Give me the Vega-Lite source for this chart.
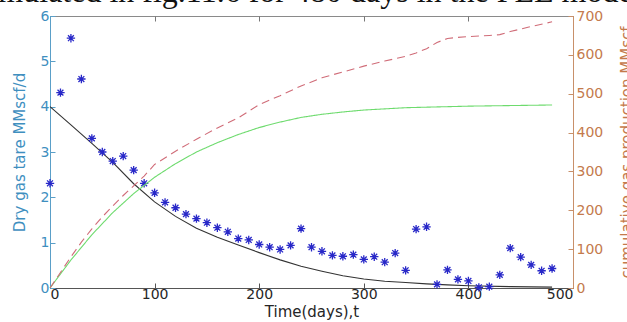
{
  "$schema": "https://vega.github.io/schema/vega-lite/v6.json",
  "width": 523,
  "height": 272,
  "autosize": {"type": "none"},
  "padding": {"left": 50, "top": 16, "right": 54, "bottom": 34},
  "background": "white",
  "title": {
    "text": "simulated in fig.11.6 for 480 days in the PEE model",
    "font": "Liberation Serif",
    "fontSize": 32,
    "fontWeight": "normal",
    "color": "#111111",
    "anchor": "start",
    "frame": "group",
    "offset": 0,
    "baseline": "alphabetic",
    "dx": -73,
    "dy": 25
  },
  "config": {
    "view": {"stroke": "#8a8a8a", "strokeWidth": 1},
    "axis": {
      "labelFont": "DejaVu Sans",
      "titleFont": "DejaVu Sans",
      "labelFontSize": 14,
      "titleFontSize": 14,
      "titleFontWeight": "normal",
      "grid": false,
      "tickSize": -5
    }
  },
  "datasets": {
    "rate": [
      {"t": 0, "y": 2.31}, {"t": 10, "y": 4.31}, {"t": 20, "y": 5.51}, {"t": 30, "y": 4.61},
      {"t": 40, "y": 3.30}, {"t": 50, "y": 3.00}, {"t": 60, "y": 2.80}, {"t": 70, "y": 2.91},
      {"t": 80, "y": 2.60}, {"t": 90, "y": 2.31}, {"t": 100, "y": 2.10}, {"t": 110, "y": 1.89},
      {"t": 120, "y": 1.77}, {"t": 130, "y": 1.63}, {"t": 140, "y": 1.53}, {"t": 150, "y": 1.44},
      {"t": 160, "y": 1.33}, {"t": 170, "y": 1.24}, {"t": 180, "y": 1.09}, {"t": 190, "y": 1.06},
      {"t": 200, "y": 0.96}, {"t": 210, "y": 0.90}, {"t": 220, "y": 0.85}, {"t": 230, "y": 0.94},
      {"t": 240, "y": 1.31}, {"t": 250, "y": 0.90}, {"t": 260, "y": 0.81}, {"t": 270, "y": 0.72},
      {"t": 280, "y": 0.70}, {"t": 290, "y": 0.735}, {"t": 300, "y": 0.63}, {"t": 310, "y": 0.69},
      {"t": 320, "y": 0.57}, {"t": 330, "y": 0.77}, {"t": 340, "y": 0.39}, {"t": 350, "y": 1.30},
      {"t": 360, "y": 1.35}, {"t": 370, "y": 0.08}, {"t": 380, "y": 0.40}, {"t": 390, "y": 0.19},
      {"t": 400, "y": 0.155}, {"t": 410, "y": 0.015}, {"t": 420, "y": 0.03}, {"t": 430, "y": 0.29},
      {"t": 440, "y": 0.88}, {"t": 450, "y": 0.68}, {"t": 460, "y": 0.51}, {"t": 470, "y": 0.38},
      {"t": 480, "y": 0.43}
    ],
    "decline": [
      {"t": 0, "y": 4.0}, {"t": 20, "y": 3.6}, {"t": 40, "y": 3.19}, {"t": 60, "y": 2.77},
      {"t": 80, "y": 2.3}, {"t": 100, "y": 1.9}, {"t": 120, "y": 1.58}, {"t": 140, "y": 1.32},
      {"t": 160, "y": 1.12}, {"t": 180, "y": 0.95}, {"t": 200, "y": 0.78}, {"t": 220, "y": 0.62},
      {"t": 240, "y": 0.48}, {"t": 260, "y": 0.37}, {"t": 280, "y": 0.27}, {"t": 300, "y": 0.2},
      {"t": 320, "y": 0.15}, {"t": 340, "y": 0.12}, {"t": 360, "y": 0.09}, {"t": 380, "y": 0.07},
      {"t": 400, "y": 0.05}, {"t": 440, "y": 0.03}, {"t": 480, "y": 0.02}
    ],
    "cum": [
      {"t": 0, "v": 0, "series": "sim"}, {"t": 20, "v": 72, "series": "sim"}, {"t": 40, "v": 137, "series": "sim"},
      {"t": 60, "v": 194, "series": "sim"}, {"t": 80, "v": 243, "series": "sim"}, {"t": 100, "v": 285, "series": "sim"},
      {"t": 120, "v": 320, "series": "sim"}, {"t": 140, "v": 350, "series": "sim"}, {"t": 160, "v": 374, "series": "sim"},
      {"t": 180, "v": 395, "series": "sim"}, {"t": 200, "v": 413, "series": "sim"}, {"t": 220, "v": 427, "series": "sim"},
      {"t": 240, "v": 439, "series": "sim"}, {"t": 260, "v": 447, "series": "sim"}, {"t": 280, "v": 453, "series": "sim"},
      {"t": 300, "v": 458, "series": "sim"}, {"t": 340, "v": 464, "series": "sim"}, {"t": 400, "v": 468, "series": "sim"},
      {"t": 480, "v": 471, "series": "sim"},
      {"t": 0, "v": 0, "series": "actual"}, {"t": 10, "v": 40, "series": "actual"}, {"t": 20, "v": 80, "series": "actual"},
      {"t": 30, "v": 118, "series": "actual"}, {"t": 40, "v": 152, "series": "actual"}, {"t": 50, "v": 183, "series": "actual"},
      {"t": 60, "v": 211, "series": "actual"}, {"t": 70, "v": 238, "series": "actual"}, {"t": 80, "v": 263, "series": "actual"},
      {"t": 90, "v": 288, "series": "actual"}, {"t": 100, "v": 318, "series": "actual"}, {"t": 120, "v": 352, "series": "actual"},
      {"t": 140, "v": 383, "series": "actual"}, {"t": 160, "v": 412, "series": "actual"}, {"t": 180, "v": 438, "series": "actual"},
      {"t": 200, "v": 472, "series": "actual"}, {"t": 220, "v": 495, "series": "actual"}, {"t": 240, "v": 520, "series": "actual"},
      {"t": 260, "v": 541, "series": "actual"}, {"t": 280, "v": 556, "series": "actual"}, {"t": 300, "v": 571, "series": "actual"},
      {"t": 320, "v": 584, "series": "actual"}, {"t": 340, "v": 596, "series": "actual"}, {"t": 350, "v": 605, "series": "actual"},
      {"t": 360, "v": 616, "series": "actual"}, {"t": 370, "v": 632, "series": "actual"}, {"t": 380, "v": 642, "series": "actual"},
      {"t": 390, "v": 645, "series": "actual"}, {"t": 400, "v": 647, "series": "actual"}, {"t": 420, "v": 650, "series": "actual"},
      {"t": 430, "v": 652, "series": "actual"}, {"t": 440, "v": 660, "series": "actual"}, {"t": 460, "v": 673, "series": "actual"},
      {"t": 480, "v": 685, "series": "actual"}
    ]
  },
  "layer": [
    {
      "layer": [
        {
          "data": {"name": "decline"},
          "mark": {"type": "line", "color": "#333333", "strokeWidth": 1.1},
          "encoding": {
            "x": {"field": "t", "type": "quantitative", "scale": {"domain": [0, 500]},
              "axis": {"orient": "bottom", "values": [0, 100, 200, 300, 400, 500], "title": "Time(days),t",
                "labelColor": "#262626", "titleColor": "#262626", "domainColor": "#555555", "tickColor": "#555555",
                "labelPadding": 4, "titlePadding": 3, "titleFontSize": 15}},
            "y": {"field": "y", "type": "quantitative", "scale": {"domain": [0, 6]},
              "axis": {"orient": "left", "values": [0, 1, 2, 3, 4, 5, 6], "title": "Dry gas tare MMscf/d",
                "labelColor": "#3f8fbf", "titleColor": "#3f8fbf", "domainColor": "#5a9fc8", "tickColor": "#5a9fc8",
                "labelPadding": 6, "titlePadding": 13, "titleFontSize": 15}}
          }
        },
        {
          "data": {"name": "rate"},
          "mark": {"type": "point", "shape": "M-1,0L1,0M0,-1L0,1M-0.7,-0.7L0.7,0.7M-0.7,0.7L0.7,-0.7",
            "filled": false, "size": 70, "strokeWidth": 1.3, "color": "#2828c8", "opacity": 1},
          "encoding": {
            "x": {"field": "t", "type": "quantitative"},
            "y": {"field": "y", "type": "quantitative"}
          }
        }
      ]
    },
    {
      "data": {"name": "cum"},
      "mark": {"type": "line", "strokeWidth": 1.1},
      "encoding": {
        "x": {"field": "t", "type": "quantitative",
          "axis": {"orient": "top", "values": [0, 100, 200, 300, 400, 500], "labels": false, "title": null,
            "domain": false, "tickColor": "#777777"}},
        "y": {"field": "v", "type": "quantitative", "scale": {"domain": [0, 700]},
          "axis": {"orient": "right", "values": [0, 100, 200, 300, 400, 500, 600, 700],
            "title": "cumulative gas production MMscf", "titleAngle": 270,
            "labelColor": "#c47a4c", "titleColor": "#c47a4c", "domainColor": "#c8906a", "tickColor": "#c8906a",
            "labelPadding": 8, "titlePadding": 32, "titleFontSize": 15}},
        "color": {"field": "series", "type": "nominal",
          "scale": {"domain": ["sim", "actual"], "range": ["#6edb6e", "#d06c78"]}, "legend": null},
        "strokeDash": {"field": "series", "type": "nominal",
          "scale": {"domain": ["sim", "actual"], "range": [[1, 0], [8, 5]]}, "legend": null}
      }
    }
  ],
  "resolve": {"scale": {"y": "independent"}, "axis": {"x": "independent"}}
}
